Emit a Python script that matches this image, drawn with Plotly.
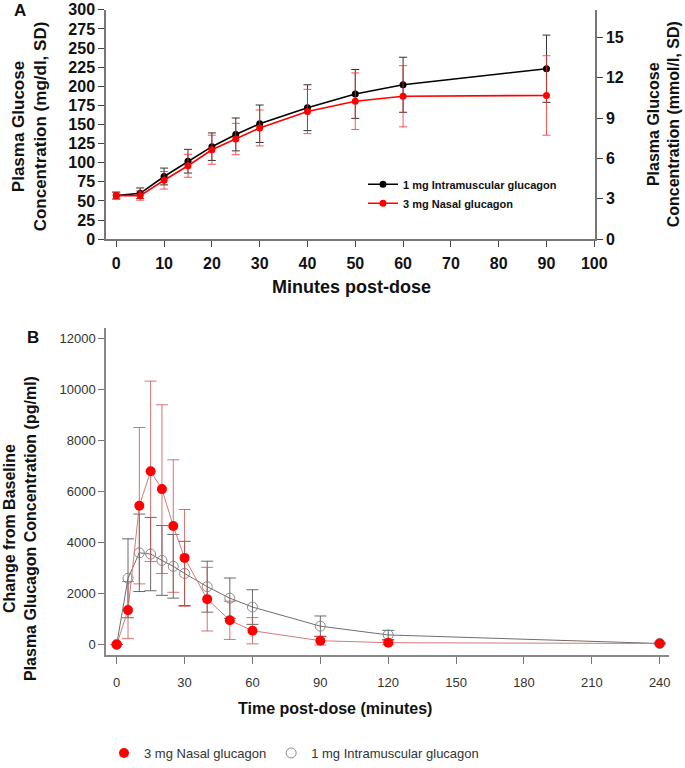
import plotly.graph_objects as go

# ---------------- Panel A data (plasma glucose, mg/dl) ----------------
a_time = [0, 5, 10, 15, 20, 25, 30, 40, 50, 60, 90]
a_im_mean = [57, 60, 82, 102, 121, 137, 151, 172, 190, 202, 223]
a_im_sd = [4.5, 7, 11, 15.5, 18, 21.5, 24.5, 30, 32, 36, 44]
a_nasal_mean = [57, 57, 77, 96, 117, 131, 145.5, 167, 180.5, 187, 188]
a_nasal_sd = [4.5, 6, 11.5, 15, 19, 20.5, 23.5, 29, 37, 40, 52]
a_xticks = [0, 10, 20, 30, 40, 50, 60, 70, 80, 90, 100]
a_yticks = [0, 25, 50, 75, 100, 125, 150, 175, 200, 225, 250, 275, 300]
a_mmol_ticks = [0, 3, 6, 9, 12, 15]
mgdl_per_mmol = 17.6  # scale of the right-hand axis as drawn

# ---------------- Panel B data (glucagon change from baseline, pg/ml) ----------------
b_time = [0, 5, 10, 15, 20, 25, 30, 40, 50, 60, 90, 120, 240]
b_nasal_mean = [0, 1350, 5450, 6800, 6100, 4650, 3400, 1780, 950, 540, 150, 70, 40]
b_nasal_sd = [0, 1120, 3070, 3540, 3310, 2600, 1900, 1250, 750, 515, 170, 80, 20]
b_im_mean = [0, 2600, 3600, 3550, 3300, 3070, 2790, 2270, 1820, 1470, 720, 375, 40]
b_im_sd = [0, 1550, 1520, 1440, 1370, 1250, 1260, 1000, 790, 680, 400, 180, 20]
b_xticks = [0, 30, 60, 90, 120, 150, 180, 210, 240]
b_yticks = [0, 2000, 4000, 6000, 8000, 10000, 12000]

W, H = 685, 768
FONT = "Liberation Sans, Arial, sans-serif"


def px(x):
    return x / W


def py(y):
    return 1 - y / H


fig = go.Figure()

# Panel A traces
fig.add_trace(go.Scatter(
    x=a_time, y=a_im_mean, mode="lines+markers", name="1 mg Intramuscular glucagon",
    line=dict(color="#000000", width=1.6), marker=dict(color="#000000", size=7),
    error_y=dict(type="data", array=a_im_sd, color="#333333", thickness=1, width=4),
    xaxis="x", yaxis="y", legend="legend"))
fig.add_trace(go.Scatter(
    x=a_time, y=a_nasal_mean, mode="lines+markers", name="3 mg Nasal glucagon",
    line=dict(color="#ff0000", width=1.6), marker=dict(color="#ff0000", size=7),
    error_y=dict(type="data", array=a_nasal_sd, color="rgba(255,40,40,0.8)", thickness=1, width=4),
    xaxis="x", yaxis="y", legend="legend"))
# same series in mmol/l on the right-hand axis (invisible; keeps that axis drawn)
fig.add_trace(go.Scatter(
    x=a_time, y=[v / mgdl_per_mmol for v in a_im_mean], mode="lines", opacity=0,
    showlegend=False, hoverinfo="skip", xaxis="x", yaxis="y3"))

# Panel B traces
fig.add_trace(go.Scatter(
    x=b_time, y=b_im_mean, mode="lines", showlegend=False,
    line=dict(color="#6e6e6e", width=1), xaxis="x2", yaxis="y2"))
fig.add_trace(go.Scatter(
    x=b_time, y=b_im_mean, mode="markers", name="1 mg Intramuscular glucagon",
    marker=dict(symbol="circle-open", color="#8a8a8a", size=10, line=dict(width=1)),
    error_y=dict(type="data", array=b_im_sd, color="rgba(80,80,80,0.85)", thickness=1, width=6),
    xaxis="x2", yaxis="y2", legend="legend2", legendrank=2))
fig.add_trace(go.Scatter(
    x=b_time, y=b_nasal_mean, mode="lines", showlegend=False,
    line=dict(color="#d87878", width=1), xaxis="x2", yaxis="y2"))
fig.add_trace(go.Scatter(
    x=b_time, y=b_nasal_mean, mode="markers", name="3 mg Nasal glucagon",
    marker=dict(color="#ff0000", size=10),
    error_y=dict(type="data", array=b_nasal_sd, color="rgba(200,80,80,0.8)", thickness=1, width=6),
    xaxis="x2", yaxis="y2", legend="legend2", legendrank=1))

axA_font = dict(family=FONT, size=16, color="#111111", weight="bold")
axB_font = dict(family=FONT, size=13, color="#333333")

fig.update_layout(
    width=W, height=H,
    margin=dict(l=0, r=0, t=0, b=0),
    paper_bgcolor="white", plot_bgcolor="white",
    font=dict(family=FONT),
    xaxis=dict(domain=[px(106), px(595)], range=[-2.15, 100.15], anchor="y",
               tickvals=a_xticks, ticks="outside", ticklen=6, tickcolor="#444",
               ticklabelstandoff=3,
               showline=True, linecolor="#777", linewidth=1.5, showgrid=False,
               zeroline=False, tickfont=axA_font, automargin=False),
    yaxis=dict(domain=[py(242.3), py(10)], range=[0, 300], anchor="x",
               tickvals=a_yticks, ticks="outside", ticklen=6, tickcolor="#444",
               showline=True, linecolor="#777", linewidth=1.5, showgrid=False,
               zeroline=False, tickfont=axA_font, automargin=False),
    yaxis3=dict(overlaying="y", side="right", anchor="x", range=[0, 300 / mgdl_per_mmol],
                tickvals=a_mmol_ticks, ticks="outside", ticklen=6, tickcolor="#444",
                showline=True, linecolor="#777", linewidth=1.5, showgrid=False,
                zeroline=False, tickfont=axA_font, automargin=False),
    xaxis2=dict(domain=[px(106), px(669)], range=[-4.73, 244.1], anchor="y2",
                tickvals=b_xticks, ticks="outside", ticklen=7, tickcolor="#777",
                ticklabelstandoff=7,
                showline=True, linecolor="#888", linewidth=1.5, showgrid=False,
                zeroline=False, tickfont=axB_font, automargin=False),
    yaxis2=dict(domain=[py(664), py(332.7)], range=[-426, 12411], anchor="x2",
                tickvals=b_yticks, tickformat="d", ticks="outside", ticklen=6, tickcolor="#777",
                showline=True, linecolor="#888", linewidth=1.5, showgrid=False,
                zeroline=False, tickfont=axB_font, automargin=False),
    legend=dict(x=px(363), y=py(172), xanchor="left", yanchor="top",
                bgcolor="rgba(0,0,0,0)", borderwidth=0,
                font=dict(family=FONT, size=11, color="#111", weight="bold"),
                itemwidth=30, tracegroupgap=0),
    legend2=dict(orientation="h", x=px(104), y=py(748), xanchor="left", yanchor="top",
                 bgcolor="rgba(0,0,0,0)", borderwidth=0,
                 font=dict(family=FONT, size=13, color="#333")),
    showlegend=True,
)

ann = [
    dict(text="<b>A</b>", x=px(20), y=py(11), font=dict(size=17, color="#111")),
    dict(text="<b>B</b>", x=px(33), y=py(342), font=dict(size=17, color="#111")),
    dict(text="<b>Plasma Glucose<br>Concentration (mg/dl, SD)</b>", x=px(29), y=py(128),
         textangle=-90, font=dict(size=17, color="#111")),
    dict(text="<b>Plasma Glucose<br>Concentration (mmol/l, SD)</b>", x=1.0, y=py(126),
         textangle=-90, font=dict(size=16, color="#111"), xanchor="right"),
    dict(text="<b>Minutes post-dose</b>", x=px(351), y=py(291), font=dict(size=18, color="#111")),
    dict(text="<b>Change from Baseline<br>Plasma Glucagon Concentration (pg/ml)</b>", x=px(20),
         y=py(536), textangle=-90, font=dict(size=16, color="#111")),
    dict(text="<b>Time post-dose (minutes)</b>", x=px(335), y=py(718), font=dict(size=16, color="#111")),
]
for a in ann:
    a.setdefault("xanchor", "center")
    a.update(xref="paper", yref="paper", showarrow=False, yanchor="middle")
    a["font"]["family"] = FONT
fig.update_layout(annotations=ann)

fig.write_html("out.html", config={"displayModeBar": False},
               post_script="document.body.style.margin='0';document.body.style.padding='0';")
